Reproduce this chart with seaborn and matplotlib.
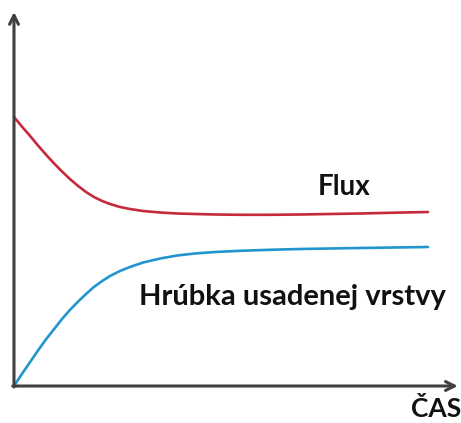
import matplotlib
matplotlib.use("Agg")
from matplotlib import pyplot as plt
import seaborn as sns
import pandas as pd

# cas (relativne jednotky)
cas = [0, 0.19, 0.39, 0.58, 0.77, 0.97, 1.16, 1.35, 1.55, 1.74, 1.93, 2.13, 2.32, 2.56,
       2.80, 3.12, 3.53, 3.94, 4.37, 4.86, 5.46, 6.18, 6.91, 7.63, 8.36, 9.20, 10]
flux = [26.9, 25.95, 25.0, 24.05, 23.15, 22.25, 21.45, 20.7, 20.0, 19.4, 18.9, 18.5, 18.2, 17.9,
        17.7, 17.5, 17.35, 17.25, 17.2, 17.15, 17.12, 17.12, 17.15, 17.2, 17.25, 17.33, 17.4]
hrubka = [0, 1.2, 2.4, 3.55, 4.65, 5.7, 6.7, 7.6, 8.45, 9.2, 9.9, 10.5, 11.0, 11.5,
          11.9, 12.35, 12.75, 13.05, 13.25, 13.4, 13.52, 13.62, 13.7, 13.75, 13.8, 13.85, 13.9]

df = pd.DataFrame({"cas": cas * 2,
                   "hodnota": flux + hrubka,
                   "seria": ["Flux"] * len(cas) + ["Hrúbka usadenej vrstvy"] * len(cas)})

sns.set_style("white")
plt.rcParams['font.family'] = ['Lato', 'DejaVu Sans']

fig = plt.figure(figsize=(4.61, 4.23), dpi=100)
ax = fig.add_axes([0, 0, 1, 1])
sns.lineplot(data=df, x="cas", y="hodnota", hue="seria",
             palette={"Flux": "#C42A3C", "Hrúbka usadenej vrstvy": "#2196CE"},
             linewidth=1.9, legend=False, ax=ax)

ax.set_xlim(-0.338, 10.797)
ax.set_ylim(-3.7, 38.6)
for s in ax.spines.values():
    s.set_visible(False)
ax.set_xticks([])
ax.set_yticks([])
ax.set_xlabel("")
ax.set_ylabel("")

# osi so sipkami
arrow = dict(arrowstyle="->", color="#404040", lw=2.2, mutation_scale=16, shrinkA=0, shrinkB=0)
ax.annotate("", xy=(10.72, 0), xytext=(-0.03, 0), arrowprops=arrow)
ax.annotate("", xy=(0, 37.4), xytext=(0, -0.1), arrowprops=arrow)

ax.text(7.97, 19.9, "Flux", fontsize=20, fontweight="bold", ha="center", va="center", color="#111111")
ax.text(6.73, 8.9, "Hrúbka usadenej vrstvy", fontsize=21, fontweight="bold", ha="center", va="center", color="#111111")
ax.text(10.19, -3.45, "ČAS", fontsize=19, fontweight="bold", ha="center", va="bottom", color="#111111")

fig.savefig("out.png", dpi=100)
